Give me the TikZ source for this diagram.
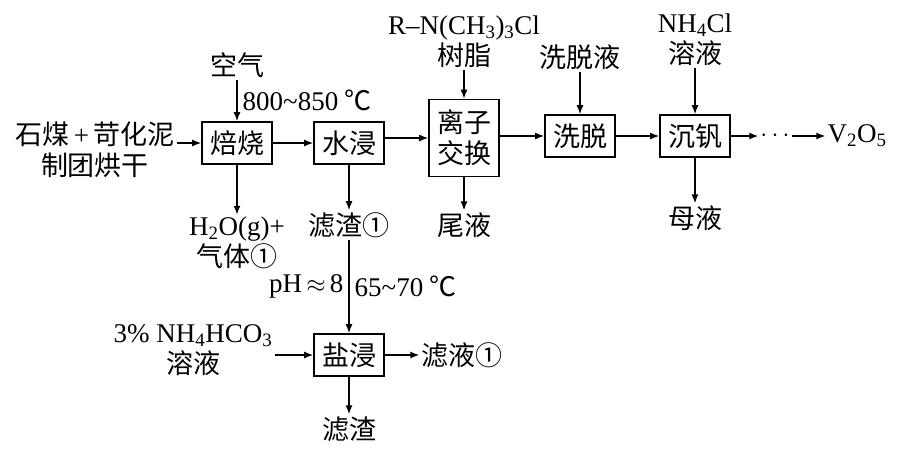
\documentclass[tikz,border=0pt]{standalone}
\usepackage{fontspec}
\setmainfont{Liberation Serif}
\newfontfamily\cjk{Noto Sans CJK SC}
\usetikzlibrary{arrows.meta}
\newcommand\lat[1]{{\rmfamily #1}}
\tikzset{
  procbox/.style={draw,line width=1.6pt,minimum width=70pt,minimum height=42pt,inner sep=0pt},
  flow/.style={-{Latex[length=9pt,width=7pt]},line width=1.4pt},
  lbl/.style={inner sep=2pt,align=center}
}
\begin{document}
\begin{tikzpicture}[x=1pt,y=-1pt,font=\fontsize{27}{31}\selectfont\cjk]
\useasboundingbox (0,0) rectangle (911,451);
\node[procbox] (bs) at (237,143) {焙烧};
\node[procbox] (sj) at (349,143) {水浸};
\node[procbox,minimum height=77pt,align=center] (lzjh) at (464,138) {离子\\交换};
\node[procbox] (xt) at (580,136) {洗脱};
\node[procbox] (cf) at (695,136) {沉钒};
\node[procbox] (yj) at (349,355) {盐浸};
\node[lbl] (feed) at (95,150) {石煤\lat{\,+\,}苛化泥\\制团烘干};
\node[lbl] (air) at (237,65) {空气};
\node[lbl] (gas) at (237,243) {\lat{H\textsubscript{2}O(g)+}\\气体①};
\node[lbl] (lz1) at (349,225) {滤渣①};
\node[lbl] (resin) at (464,42) {\lat{R–N(CH\textsubscript{3})\textsubscript{3}Cl}\\树脂};
\node[lbl] (wy) at (464,225) {尾液};
\node[lbl] (xtl) at (580,57) {洗脱液};
\node[lbl] (nh4cl) at (695,40) {\lat{NH\textsubscript{4}Cl}\\溶液};
\node[lbl] (my) at (695,218) {母液};
\node[lbl] (dots) at (775,136) {\lat{$\cdots$}};
\node[lbl] (v2o5) at (857,136) {\lat{V\textsubscript{2}O\textsubscript{5}}};
\node[lbl] (nh4) at (193,350) {\lat{3\% NH\textsubscript{4}HCO\textsubscript{3}}\\溶液};
\node[lbl] (ly1) at (462,355) {滤液①};
\node[lbl] (lz) at (349,429) {滤渣};
\draw[flow] (feed.east |- bs) -- (bs);
\draw[flow] (air) -- node[right,inner sep=5pt] {\lat{800\textasciitilde850} ℃} (bs);
\draw[flow] (bs) -- (gas);
\draw[flow] (bs) -- (sj);
\draw[flow] (sj) -- (lz1);
\draw[flow] (sj.east |- lzjh) -- (lzjh);
\draw[flow] (resin) -- (lzjh);
\draw[flow] (lzjh) -- (wy);
\draw[flow] (lzjh.east |- xt) -- (xt);
\draw[flow] (xtl) -- (xt);
\draw[flow] (xt) -- (cf);
\draw[flow] (nh4cl) -- (cf);
\draw[flow] (cf) -- (my);
\draw[flow] (cf) -- (dots);
\draw[flow] (dots) -- (v2o5);
\draw[flow] (lz1) -- node[left,inner sep=5pt] {\lat{pH$\,\approx\,$8}} node[right,inner sep=5pt] {\lat{65\textasciitilde70} ℃} (yj);
\draw[flow] (nh4.east |- yj) -- (yj);
\draw[flow] (yj) -- (ly1);
\draw[flow] (yj) -- (lz);
\end{tikzpicture}
\end{document}
